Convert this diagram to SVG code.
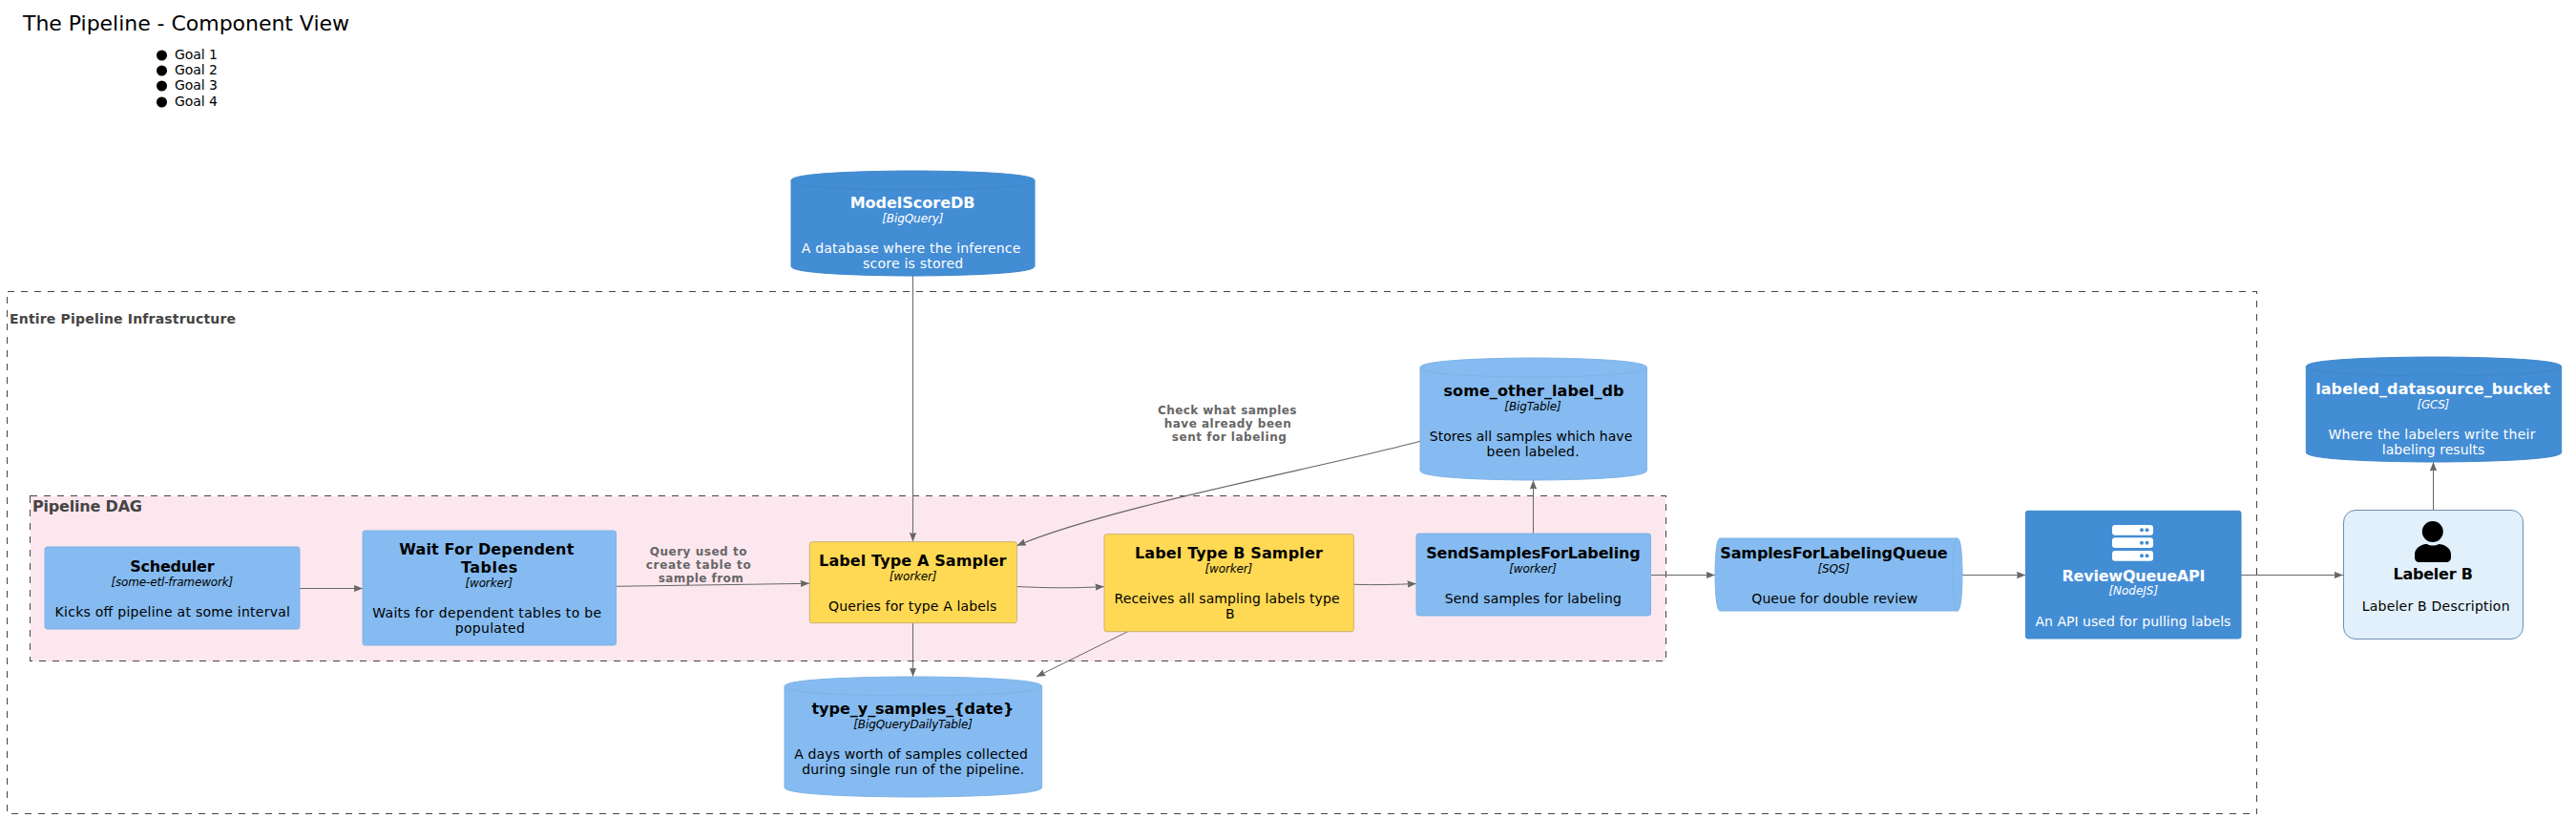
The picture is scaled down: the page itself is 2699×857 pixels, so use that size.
<svg xmlns="http://www.w3.org/2000/svg" width="2699" height="857" viewBox="0 0 2699 857">
<style>
text{font-family:"DejaVu Sans",sans-serif}
.t{font-size:16px;font-weight:bold}
.s{font-size:12px;font-style:italic}
.d{font-size:14px}
.w text{fill:#fff}
.k text{fill:#000}
.lab{font-size:12px;font-weight:bold;fill:#666}
.bt{font-weight:bold;fill:#444}
.bound{stroke:#444;stroke-width:1;stroke-dasharray:7 7;shape-rendering:crispEdges}
.blue{fill:#85BBF0;stroke:#7FB3E6}
.dark{fill:#438DD5;stroke:#3F87CC}
.yel{fill:#FFD954;stroke:#C9B26A}
.conn path{fill:none;stroke:#666;stroke-width:1;marker-end:url(#arr)}
.conn path.ax{shape-rendering:crispEdges}
</style>
<defs>
<marker id="arr" markerUnits="userSpaceOnUse" markerWidth="10" markerHeight="8" viewBox="0 0 10 8" refX="9.5" refY="4" orient="auto"><path d="M0,0.3 L9.5,4 L0,7.7 L1,4 Z" fill="#666"/></marker>
</defs>
<rect width="2699" height="857" fill="#fff"/>
<g id="title">
<text x="24" y="32" font-size="22" textLength="342">The Pipeline - Component View</text>
<circle cx="169.5" cy="58" r="5.5"/><text x="183" y="62" class="d" textLength="45">Goal 1</text>
<circle cx="169.5" cy="74" r="5.5"/><text x="183" y="78" class="d" textLength="45">Goal 2</text>
<circle cx="169.5" cy="90" r="5.5"/><text x="183" y="94" class="d" textLength="45">Goal 3</text>
<circle cx="169.5" cy="107" r="5.5"/><text x="183" y="111" class="d" textLength="45">Goal 4</text>
</g>
<g id="boundary-infra">
<rect x="7.5" y="305.5" width="2357" height="547" fill="none" class="bound"/>
<text x="10" y="339" class="bt" font-size="14" textLength="237">Entire Pipeline Infrastructure</text>
</g>
<g id="boundary-dag">
<rect x="31.5" y="519.5" width="1713.5" height="173" fill="#FDE7EF" class="bound"/>
<text x="34" y="536" class="bt" font-size="16" textLength="115">Pipeline DAG</text>
</g>
<g class="conn" id="connectors">
<path class="ax" d="M314,616.5 L380,616.5"/>
<path d="M645.5,614.3 L848,611.3"/>
<path class="ax" d="M956.5,289 L956.5,567.5"/>
<path class="ax" d="M956.5,652.7 L956.5,709"/>
<path d="M1184,660.5 L1085.8,709"/>
<path d="M1065.3,614.5 C1095,616 1125,616.5 1157,614.5"/>
<path d="M1418.4,612.3 C1440,613 1462,612.5 1484,611.5"/>
<path class="ax" d="M1606.5,559 L1606.5,503"/>
<path class="ax" d="M1729.5,602.5 L1797,602.5"/>
<path class="ax" d="M2056,602.5 L2122.4,602.5"/>
<path class="ax" d="M2348,602.5 L2455,602.5"/>
<path class="ax" d="M2549.5,534 L2549.5,484"/>
<path style="stroke-width:1.15" d="M1488,462.3 C1385,490 1165,530 1065.3,571.7"/>
</g>
<g id="edge-labels">
<text x="680.7" y="582" class="lab" textLength="101.7">Query used to</text>
<text x="676.7" y="596" class="lab" textLength="110">create table to</text>
<text x="689.7" y="610" class="lab" textLength="89">sample from</text>
<text x="1213" y="434" class="lab" textLength="145.5">Check what samples</text>
<text x="1219.7" y="448" class="lab" textLength="133">have already been</text>
<text x="1227.8" y="462" class="lab" textLength="120">sent for labeling</text>
</g>
<g id="ModelScoreDB" class="w">
<path class="dark" d="M829,189 C829,179 956.5,179 956.5,179 C956.5,179 1084,179 1084,189 L1084,279 C1084,289 956.5,289 956.5,289 C956.5,289 829,289 829,279 Z"/>
<path class="dark" style="fill:none" d="M829,189 C829,199 956.5,199 956.5,199 C956.5,199 1084,199 1084,189"/>
<text x="890.7" y="218" class="t" textLength="130.8">ModelScoreDB</text><text x="924.2" y="233" class="s" textLength="64.3">[BigQuery]</text>
<text x="839.8" y="265" class="d" textLength="229.5">A database where the inference</text><text x="904.1" y="281" class="d" textLength="105">score is stored</text>
</g>
<g id="some_other_label_db" class="k">
<path class="blue" d="M1488,385 C1488,375 1606.7,375 1606.7,375 C1606.7,375 1725.4,375 1725.4,385 L1725.4,493 C1725.4,503 1606.7,503 1606.7,503 C1606.7,503 1488,503 1488,493 Z"/>
<path class="blue" style="fill:none" d="M1488,385 C1488,395 1606.7,395 1606.7,395 C1606.7,395 1725.4,395 1725.4,385"/>
<text x="1512.5" y="415" class="t" textLength="189">some_other_label_db</text><text x="1576.3" y="430" class="s" textLength="59.4">[BigTable]</text>
<text x="1497.8" y="462" class="d" textLength="212.5">Stores all samples which have</text><text x="1557.6" y="478" class="d" textLength="97">been labeled.</text>
</g>
<g id="labeled_datasource_bucket" class="w">
<path class="dark" d="M2416.3,384 C2416.3,374 2550,374 2550,374 C2550,374 2683.7,374 2683.7,384 L2683.7,474 C2683.7,484 2550,484 2550,484 C2550,484 2416.3,484 2416.3,474 Z"/>
<path class="dark" style="fill:none" d="M2416.3,384 C2416.3,394 2550,394 2550,394 C2550,394 2683.7,394 2683.7,384"/>
<text x="2426.2" y="413" class="t" textLength="245.9">labeled_datasource_bucket</text><text x="2532.6" y="428" class="s" textLength="33.5">[GCS]</text>
<text x="2439.5" y="460" class="d" textLength="217">Where the labelers write their</text><text x="2495.8" y="476" class="d" textLength="107.6">labeling results</text>
</g>
<g id="Scheduler" class="k">
<rect class="blue" x="47" y="573" width="267" height="86" rx="2.5"/>
<text x="136.2" y="599" class="t" textLength="88.4">Scheduler</text><text x="116.5" y="614" class="s" textLength="127.7">[some-etl-framework]</text>
<text x="57.6" y="646" class="d" textLength="246.4">Kicks off pipeline at some interval</text>
</g>
<g id="WaitForDependentTables" class="k">
<rect class="blue" x="380" y="556" width="265.5" height="120" rx="2.5"/>
<text x="418.3" y="581" class="t" textLength="183">Wait For Dependent</text><text x="483" y="600" class="t" textLength="59.4">Tables</text><text x="487.5" y="615" class="s" textLength="49.6">[worker]</text>
<text x="390.2" y="647" class="d" textLength="240">Waits for dependent tables to be</text><text x="476.8" y="663" class="d" textLength="73">populated</text>
</g>
<g id="LabelTypeASampler" class="k">
<rect class="yel" x="848.3" y="567.7" width="217" height="85" rx="2.5"/>
<text x="858.1" y="593" class="t" textLength="196.4">Label Type A Sampler</text><text x="931.8" y="608" class="s" textLength="49.6">[worker]</text>
<text x="868" y="640" class="d" textLength="176.3">Queries for type A labels</text>
</g>
<g id="LabelTypeBSampler" class="k">
<rect class="yel" x="1157" y="559.7" width="261.4" height="102" rx="2.5"/>
<text x="1188.9" y="585" class="t" textLength="196.9">Label Type B Sampler</text><text x="1262.6" y="600" class="s" textLength="49.6">[worker]</text>
<text x="1167.5" y="632" class="d" textLength="236">Receives all sampling labels type</text><text x="1284" y="648" class="d">B</text>
</g>
<g id="SendSamplesForLabeling" class="k">
<rect class="blue" x="1484" y="559" width="245.5" height="86" rx="2.5"/>
<text x="1494.2" y="585" class="t" textLength="224.5">SendSamplesForLabeling</text><text x="1581.3" y="600" class="s" textLength="49.6">[worker]</text>
<text x="1513.8" y="632" class="d" textLength="185">Send samples for labeling</text>
</g>
<g id="type_y_samples" class="k">
<path class="blue" d="M822,719 C822,709 956.8,709 956.8,709 C956.8,709 1091.6,709 1091.6,719 L1091.6,825 C1091.6,835 956.8,835 956.8,835 C956.8,835 822,835 822,825 Z"/>
<path class="blue" style="fill:none" d="M822,719 C822,729 956.8,729 956.8,729 C956.8,729 1091.6,729 1091.6,719"/>
<text x="850.5" y="748" class="t" textLength="212">type_y_samples_{date}</text><text x="894.3" y="763" class="s" textLength="124.6">[BigQueryDailyTable]</text>
<text x="832.2" y="795" class="d" textLength="244.6">A days worth of samples collected</text><text x="840.3" y="811" class="d" textLength="233">during single run of the pipeline.</text>
</g>
<g id="SamplesForLabelingQueue" class="k">
<path class="blue" d="M1802,564 L2051,564 C2056,564 2056,602 2056,602 C2056,602 2056,640 2051,640 L1802,640 C1797,640 1797,602 1797,602 C1797,602 1797,564 1802,564 Z"/>
<path class="blue" style="fill:none" d="M2051,564 C2046,564 2046,602 2046,602 C2046,602 2046,640 2051,640"/>
<text x="1802.2" y="585" class="t" textLength="238.4">SamplesForLabelingQueue</text><text x="1904.5" y="600" class="s" textLength="33.5">[SQS]</text>
<text x="1835.3" y="632" class="d" textLength="174">Queue for double review</text>
</g>
<g id="ReviewQueueAPI" class="w">
<rect class="dark" x="2122.4" y="535.3" width="225.6" height="133.7" rx="2.5"/>
<g fill="#fff"><rect x="2213" y="550" width="43" height="10.7" rx="3"/><rect x="2213" y="563.3" width="43" height="10.7" rx="3"/><rect x="2213" y="577" width="43" height="10.7" rx="3"/></g>
<g fill="#438DD5"><circle cx="2244" cy="555.3" r="2"/><circle cx="2249.5" cy="555.3" r="2"/><circle cx="2244" cy="568.7" r="2"/><circle cx="2249.5" cy="568.7" r="2"/><circle cx="2244" cy="582.3" r="2"/><circle cx="2249.5" cy="582.3" r="2"/></g>
<text x="2160.5" y="609" class="t" textLength="150">ReviewQueueAPI</text><text x="2209.4" y="623" class="s" textLength="51.7">[NodeJS]</text>
<text x="2132.4" y="656" class="d" textLength="205">An API used for pulling labels</text>
</g>
<g id="LabelerB" class="k">
<rect x="2455.5" y="534.5" width="188" height="135" rx="12.5" fill="#E1F0FB" stroke="#6E8FB5"/>
<circle cx="2548.8" cy="557" r="11"/>
<path d="M2530,584 L2530,581 C2530,574 2537,570 2543,570 C2546,572 2552,572 2555,570 C2561,570 2568,574 2568,581 L2568,584 C2568,587 2566,589 2563,589 L2535,589 C2532,589 2530,587 2530,584 Z"/>
<text x="2507.4" y="607" class="t" textLength="83.6">Labeler B</text>
<text x="2474.7" y="640" class="d" textLength="154.8">Labeler B Description</text>
</g>
</svg>
